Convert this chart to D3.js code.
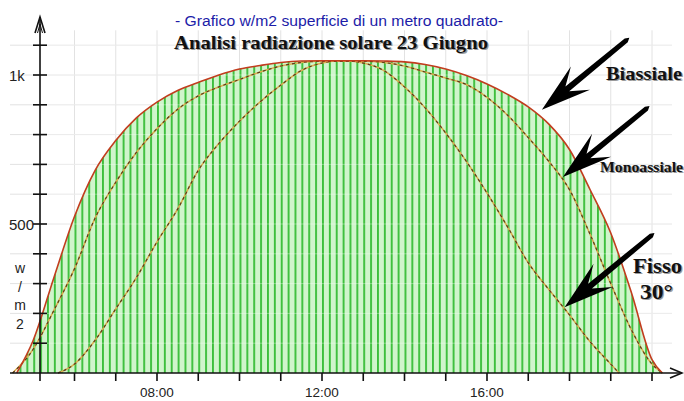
<!DOCTYPE html>
<html><head><meta charset="utf-8">
<script src="https://cdn.jsdelivr.net/npm/d3@7"></script>
<style>body{margin:0;background:#fff}</style>
</head><body><svg id="c" width="684" height="401"></svg>
<script>
// ---- data (hours of day, W/m2) ----
const biaTimes  = [4.6,5.0,5.5,6.0,6.5,7.0,7.5,8.0,8.5,9.0,9.5,10.0,10.5,11.0,11.5,12.0,12.5,13.0,13.5,14.0,14.5,15.0,15.5,16.0,16.5,17.0,17.5,18.0,18.5,19.0,19.5,20.0,20.25];
const biaValues = [0,110,320,525,680,780,856,909,948,975,1000,1020,1032,1042,1047,1048,1048,1048,1047,1044,1035,1020,998,970,935,893,835,750,615,470,270,45,0];
const monoTimes  = [4.5,5.0,5.5,6.0,6.5,7.0,7.5,8.0,8.5,9.0,9.5,10.0,10.5,11.0,11.5,12.0,12.5,13.0,13.5,14.0,14.5,15.0,15.5,16.0,16.5,17.0,17.5,18.0,18.5,19.0,19.5,20.0,20.25];
const monoValues = [0,80,210,350,520,640,740,820,885,930,960,985,1010,1030,1042,1046,1046,1046,1042,1030,1010,990,968,925,865,790,710,615,465,300,145,30,0];
const fixTimes  = [5.6,6.0,6.5,7.0,7.5,8.0,8.5,9.0,9.5,10.0,10.5,11.0,11.5,12.0,12.5,13.0,13.5,14.0,14.5,15.0,15.5,16.0,16.5,17.0,17.5,18.0,18.5,19.0,19.2];
const fixValues = [0,30,110,215,320,440,550,680,770,845,910,966,1015,1040,1048,1040,1015,960,890,805,710,604,490,370,280,195,105,30,0];

const xTickHours = [6,7,8,9,10,11,12,13,14,15,16,17,18,19,20];
const xLabelHours = [8,12,16];
const xLabelText = ["08:00","12:00","16:00"];
const yTickValues = [100,200,300,400,500,600,700,800,900,1000,1100];
const yLabelValues = [500,1000];
const yLabelText = ["500","1k"];
const unitLetters = ["w","/","m","2"];
const titleText = "- Grafico w/m2 superficie di un metro quadrato-";
const subtitleText = "Analisi radiazione solare 23 Giugno";
// annotation arrows: [tailHour, tailValue, tipHour, tipValue]
const arrowBia  = [19.45,1125,17.33,883];
const arrowMono = [19.94,896,17.84,658];
const arrowFix  = [20.06,470,17.88,221];

// ---- scales ----
const x = d3.scaleLinear().domain([12,16]).range([322,487]);
const y = d3.scaleLinear().domain([0,1000]).range([373,75]);
const svg = d3.select("#c");
const x0 = 40, xEnd = 682, y0 = y(0);

// pattern of vertical stripes every 10 minutes
const stripeW = x(12+10/60) - x(12);
const defs = svg.append("defs");
const pat = defs.append("pattern").attr("id","stripes").attr("patternUnits","userSpaceOnUse")
  .attr("x", x(12)).attr("y",0).attr("width", stripeW).attr("height", 401);
pat.append("rect").attr("width", stripeW).attr("height",401).attr("fill","#d0f5cc");
pat.append("rect").attr("x",0).attr("width",1.9).attr("height",401).attr("fill","#3cbf3c");

// grid
const grid = svg.append("g").attr("stroke","#e2e2e2").attr("stroke-width",1);
grid.selectAll(".gv").data(xTickHours).join("line")
  .attr("x1",d=>x(d)).attr("x2",d=>x(d)).attr("y1",y(1150)).attr("y2",y0);
grid.selectAll(".gh").data(yTickValues).join("line")
  .attr("x1",10).attr("x2",672).attr("y1",d=>y(d)).attr("y2",d=>y(d));

// area under biassiale
const pts = (t,v)=>t.map((h,i)=>[h,v[i]]);
const area = d3.area().x(d=>x(d[0])).y0(y0).y1(d=>y(d[1])).curve(d3.curveMonotoneX);
const line = d3.line().x(d=>x(d[0])).y(d=>y(d[1])).curve(d3.curveMonotoneX);
svg.append("path").datum(pts(biaTimes,biaValues)).attr("d",area).attr("fill","url(#stripes)");

// faint grid over fill
const grid2 = svg.append("g").attr("stroke","#ffffff").attr("stroke-opacity",0.35);
grid2.selectAll("line").data(yTickValues).join("line")
  .attr("x1",x0).attr("x2",672).attr("y1",d=>y(d)).attr("y2",d=>y(d));

// curves
[[fixTimes,fixValues],[monoTimes,monoValues]].forEach(([t,v])=>{
  svg.append("path").datum(pts(t,v)).attr("d",line).attr("fill","none")
    .attr("stroke","#d9b050").attr("stroke-width",1.6);
  svg.append("path").datum(pts(t,v)).attr("d",line).attr("fill","none")
    .attr("stroke","#5a3c1c").attr("stroke-width",1.2).attr("stroke-dasharray","3,3");
});
svg.append("path").datum(pts(biaTimes,biaValues)).attr("d",line).attr("fill","none")
  .attr("stroke","#c23c1e").attr("stroke-width",1.6);

// axes
const ax = svg.append("g").attr("stroke","#111").attr("stroke-width",1.6).attr("fill","none");
ax.append("line").attr("x1",10).attr("x2",xEnd).attr("y1",y0).attr("y2",y0);
ax.append("path").attr("d",`M${xEnd-12},${y0-5}L${xEnd},${y0}L${xEnd-12},${y0+5}`);
ax.append("line").attr("x1",x0).attr("x2",x0).attr("y1",17).attr("y2",y0+8);
ax.append("path").attr("d",`M${x0-5},33L${x0},17L${x0+5},33`);
ax.append("path").attr("stroke-width",1).attr("d",`M${x0-2.5},33L${x0},24L${x0+2.5},33`);
ax.selectAll(".xt").data(xTickHours).join("line")
  .attr("x1",d=>x(d)).attr("x2",d=>x(d)).attr("y1",y0).attr("y2",y0+8);
ax.selectAll(".yt").data(yTickValues).join("line")
  .attr("x1",x0-7).attr("x2",x0+7).attr("y1",d=>y(d)).attr("y2",d=>y(d));

// labels
const sans = "'Liberation Sans', Arial, sans-serif";
const serif = "'Liberation Serif', 'Times New Roman', serif";
svg.selectAll(".xl").data(xLabelHours).join("text")
  .attr("x",d=>x(d)).attr("y",397).attr("text-anchor","middle")
  .attr("font-family",sans).attr("font-size",13.5).attr("fill","#222")
  .text((d,i)=>xLabelText[i]);
svg.selectAll(".yl").data(yLabelValues).join("text")
  .attr("x",9).attr("y",d=>y(d)+5.5).attr("text-anchor","start")
  .attr("font-family",sans).attr("font-size",15).attr("fill","#222")
  .text((d,i)=>yLabelText[i]);
svg.selectAll(".ul").data(unitLetters).join("text")
  .attr("x",20).attr("y",(d,i)=>273+i*18.5).attr("text-anchor","middle")
  .attr("font-family",sans).attr("font-size",14).attr("fill","#222").text(d=>d);

svg.append("text").attr("x",175).attr("y",26)
  .attr("font-family",sans).attr("font-size",14).attr("fill","#1c1ca8")
  .attr("textLength",328).attr("lengthAdjust","spacingAndGlyphs").text(titleText);

function shadowText(txt,xx,yy,size,len){
  const add=(dx,col)=>{
    const t=svg.append("text").attr("x",xx+dx).attr("y",yy+dx)
      .attr("font-family",serif).attr("font-weight","bold").attr("font-size",size).attr("fill",col).text(txt);
    if(len) t.attr("textLength",len).attr("lengthAdjust","spacingAndGlyphs");
  };
  add(1.3,"#9a9a9a"); add(0,"#111");
}
shadowText(subtitleText,174,49,19,314);
shadowText("Biassiale",606,80,19,76);
shadowText("Monoassiale",600,172,15.5,83);
shadowText("Fisso",633,273,22,49);
shadowText("30°",640,299,22,33);

// arrows
function arrow(a){
  const tx=x(a[0]), ty=y(a[1]), px=x(a[2]), py=y(a[3]);
  const L=Math.hypot(tx-px,ty-py), ux=(tx-px)/L, uy=(ty-py)/L, nx=-uy, ny=ux;
  const P=(s,w)=>[px+ux*s+nx*w, py+uy*s+ny*w];
  const poly=[P(0,0),P(50,-15),P(33,-3),P(L-4,-2.4),P(L,0),P(L-4,2.4),P(33,3),P(50,15)];
  svg.append("path").attr("d","M"+poly.map(p=>p.join(",")).join("L")+"Z").attr("fill","#000");
}
arrow(arrowBia); arrow(arrowMono); arrow(arrowFix);
</script></body></html>
